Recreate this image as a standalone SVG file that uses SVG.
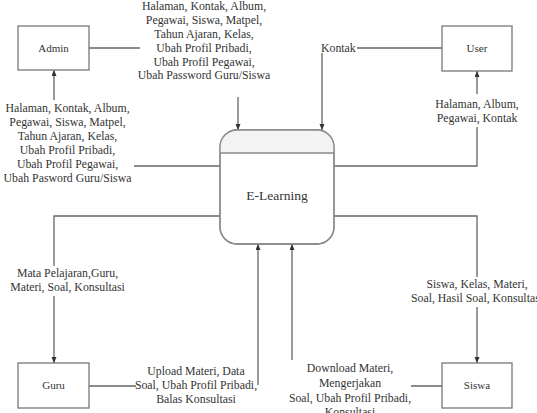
<svg xmlns="http://www.w3.org/2000/svg" width="537" height="413" viewBox="0 0 537 413" font-family="'Liberation Serif', 'Times New Roman', serif">
<defs>
<marker id="arr" markerUnits="userSpaceOnUse" markerWidth="6" markerHeight="6" refX="6" refY="2.5" orient="auto">
<path d="M0,0 L6,2.5 L0,5 z" fill="#333"/>
</marker>
<style>
.box{fill:#fff;stroke:#777;stroke-width:1.3}
.nt{font-family:"Liberation Serif","Times New Roman",serif;font-size:11px;fill:#333;text-anchor:middle}
.lb{font-family:"Liberation Serif","Times New Roman",serif;font-size:11.8px;fill:#333;text-anchor:middle}
.cn{fill:none;stroke:#666;stroke-width:1.3;marker-end:url(#arr)}
</style>
</defs>
<rect width="537" height="413" fill="#fff"/>
<g id="connectors">
<path id="c1" class="cn" d="M89,48 H140 M238,97 V130"/>
<path id="c2" class="cn" d="M220,166 H134 M54,100 V70"/>
<path id="c3" class="cn" d="M442,48 H357 M322,53 V130"/>
<path id="c4" class="cn" d="M334,166 H477 V127 M477,94 V71"/>
<path id="c5" class="cn" d="M220,216 H54 V266 M54,296 V363"/>
<path id="c6" class="cn" d="M334,216 H477 V277 M477,307 V363"/>
<path id="c7" class="cn" d="M89,386 H136 M258,385 V244"/>
<path id="c8" class="cn" d="M442,386 H411 M292,360 V244"/>
</g>
<g id="labels">
<text class="lb" x="204" y="10">Halaman, Kontak, Album,</text>
<text class="lb" x="204" y="24">Pegawai, Siswa, Matpel,</text>
<text class="lb" x="204" y="38">Tahun Ajaran, Kelas,</text>
<text class="lb" x="204" y="52">Ubah Profil Pribadi,</text>
<text class="lb" x="204" y="66">Ubah Profil Pegawai,</text>
<text class="lb" x="204" y="79">Ubah Password Guru/Siswa</text>
<text class="lb" x="67.5" y="112">Halaman, Kontak, Album,</text>
<text class="lb" x="67.5" y="126">Pegawai, Siswa, Matpel,</text>
<text class="lb" x="67.5" y="140">Tahun Ajaran, Kelas,</text>
<text class="lb" x="67.5" y="154">Ubah Profil Pribadi,</text>
<text class="lb" x="67.5" y="168">Ubah Profil Pegawai,</text>
<text class="lb" x="67.5" y="182">Ubah Pasword Guru/Siswa</text>
<text class="lb" x="321" y="52" style="text-anchor:start">Kontak</text>
<text class="lb" x="477" y="108">Halaman, Album,</text>
<text class="lb" x="477" y="122">Pegawai, Kontak</text>
<text class="lb" x="67.5" y="277">Mata Pelajaran,Guru,</text>
<text class="lb" x="67.5" y="291">Materi, Soal, Konsultasi</text>
<text class="lb" x="477" y="288">Siswa, Kelas, Materi,</text>
<text class="lb" x="477" y="302">Soal, Hasil Soal, Konsultasi</text>
<text class="lb" x="196" y="375">Upload Materi, Data</text>
<text class="lb" x="196" y="389">Soal, Ubah Profil Pribadi,</text>
<text class="lb" x="196" y="403">Balas Konsultasi</text>
<text class="lb" x="350" y="372">Download Materi,</text>
<text class="lb" x="350" y="387">Mengerjakan</text>
<text class="lb" x="350" y="402">Soal, Ubah Profil Pribadi,</text>
<text class="lb" x="350" y="416">Konsultasi</text>
</g>
<g id="admin">
<rect class="box" x="18" y="26" width="71" height="44"/>
<text class="nt" x="53.5" y="52">Admin</text>
</g>
<g id="user">
<rect class="box" x="442" y="26" width="70" height="45"/>
<text class="nt" x="477" y="52">User</text>
</g>
<g id="guru">
<rect class="box" x="18" y="363" width="71" height="45"/>
<text class="nt" x="53.5" y="389">Guru</text>
</g>
<g id="siswa">
<rect class="box" x="442" y="363" width="70" height="45"/>
<text class="nt" x="477" y="389">Siswa</text>
</g>
<g id="elearning">
<rect x="220" y="130" width="114" height="114" rx="17" ry="17" fill="#fff" stroke="#888" stroke-width="1.3"/>
<path d="M220,153 V147 A17,17 0 0 1 237,130 H317 A17,17 0 0 1 334,147 V153 Z" fill="#f3f3f3" stroke="none"/>
<rect x="220" y="130" width="114" height="114" rx="17" ry="17" fill="none" stroke="#888" stroke-width="1.3"/>
<line x1="220" y1="153" x2="334" y2="153" stroke="#888" stroke-width="1.3"/>
<text class="nt" x="277" y="200" font-size="13.5" style="font-size:13.5px">E-Learning</text>
</g>
</svg>
